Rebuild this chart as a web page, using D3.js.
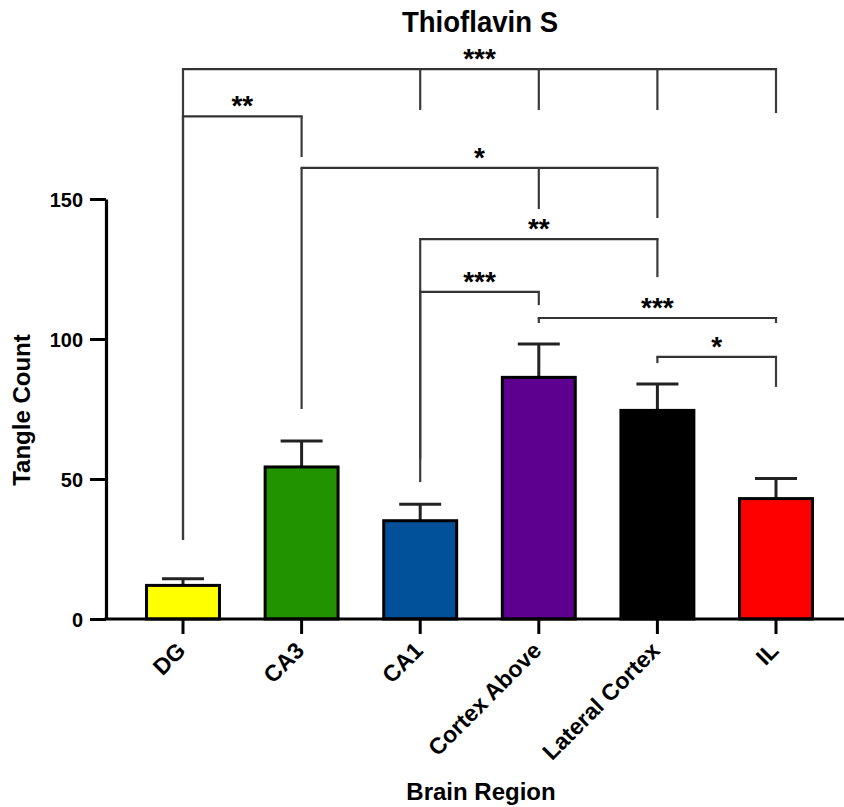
<!DOCTYPE html>
<html>
<head>
<meta charset="utf-8">
<script src="https://cdn.jsdelivr.net/npm/d3@7"></script>
<style>
  html, body { margin: 0; padding: 0; background: #fff; }
  svg { display: block; }
  text { font-family: "Liberation Sans", Arial, Helvetica, sans-serif; font-weight: bold; fill: #000; }
</style>
</head>
<body>
<svg id="chart" width="844" height="807"></svg>
<script>
// ---- data ----
const categories = ["DG", "CA3", "CA1", "Cortex Above", "Lateral Cortex", "IL"];
const means = [12, 54.3, 35.1, 86.3, 74.5, 43];
const sems = [2.4, 9.3, 5.9, 11.9, 9.4, 7.2];
const colors = ["#FFFF00", "#229300", "#00519A", "#5E008F", "#000000", "#FF0000"];
const yTicks = [0, 50, 100, 150];
const titleText = "Thioflavin S";
const yTitle = "Tangle Count";
const xTitle = "Brain Region";
// significance brackets: level and leg ends in data units
const brackets = [
  { label: "***", level: 196.4, legs: [["DG", 28.2], ["CA1", 181.8], ["Cortex Above", 181.8], ["Lateral Cortex", 181.8], ["IL", 180.7]] },
  { label: "**", level: 179.5, legs: [["DG", 28.2], ["CA3", 165]] },
  { label: "*", level: 161.1, legs: [["CA3", 75], ["Cortex Above", 146.4], ["Lateral Cortex", 143.2]] },
  { label: "**", level: 135.7, legs: [["CA1", 57.1], ["Lateral Cortex", 122.1]] },
  { label: "***", level: 116.8, legs: [["CA1", 48.9], ["Cortex Above", 112.1]] },
  { label: "***", level: 107.5, legs: [["Cortex Above", 105.7], ["IL", 105.7]] },
  { label: "*", level: 93.6, legs: [["Lateral Cortex", 91.4], ["IL", 82.9]] }
];

// ---- layout ----
const svg = d3.select("#chart");
const yAxisX = 106, xAxisY = 619;

const x = d3.scaleBand()
  .domain(categories)
  .range([123.7, 835.3])
  .paddingInner(0.385)
  .paddingOuter(0.1925);

const y = d3.scaleLinear().domain([0, 150]).range([xAxisY, 199]);
const cx = c => x(c) + x.bandwidth() / 2;

const data = categories.map((c, i) => ({ c, m: means[i], s: sems[i], col: colors[i] }));

// error bars (behind bars)
const eb = svg.append("g").attr("stroke", "#222").attr("stroke-width", 3);
data.forEach(d => {
  eb.append("line").attr("x1", cx(d.c)).attr("x2", cx(d.c))
    .attr("y1", y(d.m)).attr("y2", y(d.m + d.s));
  eb.append("line").attr("x1", cx(d.c) - 21).attr("x2", cx(d.c) + 21)
    .attr("y1", y(d.m + d.s)).attr("y2", y(d.m + d.s));
});

// bars
svg.append("g").selectAll("rect").data(data).join("rect")
  .attr("x", d => x(d.c))
  .attr("width", x.bandwidth())
  .attr("y", d => y(d.m))
  .attr("height", d => y(0) - y(d.m))
  .attr("fill", d => d.col)
  .attr("stroke", "#000")
  .attr("stroke-width", 3);

// y axis
const yAxis = svg.append("g").attr("transform", `translate(${yAxisX},0)`)
  .call(d3.axisLeft(y).tickValues(yTicks).tickSize(16).tickSizeOuter(0).tickPadding(7).tickFormat(d3.format("d")));
yAxis.select(".domain").attr("stroke", "#000").attr("stroke-width", 3.2);
yAxis.selectAll(".tick line").attr("stroke", "#000").attr("stroke-width", 3);
yAxis.selectAll(".tick text")
  .attr("font-size", 21).attr("font-family", null)
  .attr("x", null).attr("dy", null)
  .attr("transform", "translate(-23,7.5) scale(0.95,1)")
  .style("font-weight", "bold");

// x axis
svg.append("line").attr("x1", yAxisX - 1.5).attr("x2", 844)
  .attr("y1", xAxisY).attr("y2", xAxisY)
  .attr("stroke", "#000").attr("stroke-width", 3);
const xAxis = svg.append("g").attr("transform", `translate(0,${xAxisY})`)
  .call(d3.axisBottom(x).tickSize(15).tickSizeOuter(0));
xAxis.select(".domain").remove();
xAxis.selectAll(".tick line").attr("stroke", "#000").attr("stroke-width", 3);
xAxis.selectAll(".tick text")
  .attr("font-size", 23).attr("font-family", null)
  .attr("y", null).attr("dy", null)
  .attr("text-anchor", "end")
  .attr("transform", "translate(4,33) rotate(-45)");

// brackets
const bg = svg.append("g");
brackets.forEach(b => {
  const xs = b.legs.map(l => cx(l[0]));
  const x0 = d3.min(xs), x1 = d3.max(xs);
  const yl = y(b.level);
  bg.append("line").attr("x1", x0).attr("x2", x1).attr("y1", yl).attr("y2", yl)
    .attr("stroke", "#333").attr("stroke-width", 2.2).attr("stroke-linecap", "square");
  b.legs.forEach(l => {
    bg.append("line").attr("x1", cx(l[0])).attr("x2", cx(l[0]))
      .attr("y1", yl).attr("y2", y(l[1]))
      .attr("stroke", "#3a3a3a").attr("stroke-width", 2.2);
  });
  bg.append("text").attr("x", (x0 + x1) / 2).attr("y", yl - 1)
    .attr("text-anchor", "middle").attr("font-size", 28).text(b.label);
});

// titles
svg.append("text").attr("transform", "translate(480,32) scale(0.95,1)")
  .attr("text-anchor", "middle").attr("font-size", 29).text(titleText);
svg.append("text").attr("transform", "translate(30,410) rotate(-90)")
  .attr("text-anchor", "middle").attr("font-size", 24).text(yTitle);
svg.append("text").attr("transform", "translate(481,800)")
  .attr("text-anchor", "middle").attr("font-size", 24).text(xTitle);
</script>
</body>
</html>
